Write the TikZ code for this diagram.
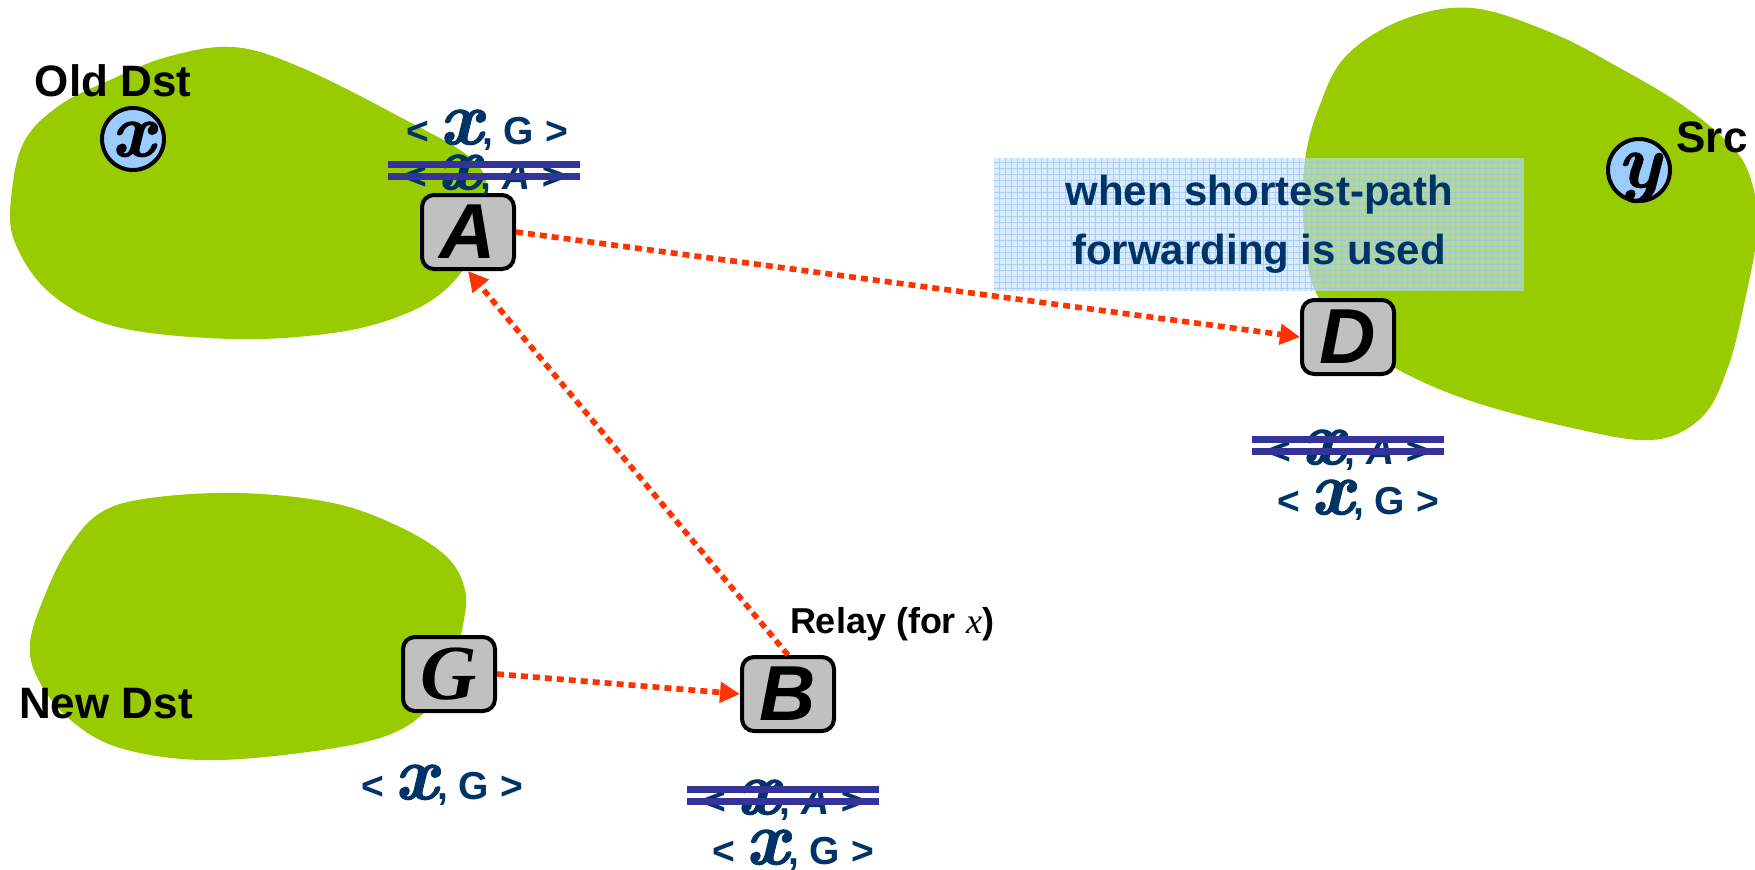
\documentclass[tikz,border=0pt]{standalone}
\usepackage{fontspec}
\setmainfont{Liberation Sans}
\newfontfamily\serifvar{Liberation Serif}
\newfontfamily\lmvar{Latin Modern Roman}[FakeBold=1.5]
\usetikzlibrary{arrows.meta,positioning}

\definecolor{blobgreen}{RGB}{153,204,0}
\definecolor{boxgray}{RGB}{192,192,192}
\definecolor{hostblue}{RGB}{153,204,255}
\definecolor{tagblue}{RGB}{0,51,102}
\definecolor{strikeblue}{RGB}{51,51,153}
\definecolor{pathred}{RGB}{255,51,0}
\definecolor{noteblue}{RGB}{196,224,255}
\definecolor{notegrid}{RGB}{150,195,250}

% host variable and routing entry < x, ... >
\newcommand{\hvar}[1]{{\lmvar\bfseries\itshape\fontsize{38}{38}\selectfont #1}}
\newcommand{\entry}[1]{< \hvar{x}, #1 >}

\begin{document}
\begin{tikzpicture}[
    x=0.5pt, y=-0.5pt,
    blob/.style={fill=blobgreen, draw=none},
    router/.style={rectangle, draw, line width=2pt, fill=boxgray,
                   rounded corners=6pt, minimum width=46pt, minimum height=37pt,
                   inner sep=0pt, font=\fontsize{39}{39}\selectfont\bfseries\itshape},
    host/.style={circle, draw, line width=2pt, fill=hostblue, minimum size=31pt,
                 inner sep=0pt, text depth=0pt,
                 font=\lmvar\fontsize{38}{38}\selectfont\bfseries\itshape},
    area/.style={inner sep=0pt, font=\fontsize{22}{22}\selectfont\bfseries},
    tag/.style={text=tagblue, inner sep=0pt, font=\fontsize{19.5}{20}\selectfont\bfseries},
    strike/.style={draw=strikeblue, line width=3.5pt},
    note/.style={rectangle, fill=noteblue, fill opacity=0.6, text opacity=1,
                 minimum width=265pt, minimum height=66.5pt, inner sep=0pt,
                 align=center, text=tagblue,
                 font=\fontsize{21}{29.5}\selectfont\bfseries,
                 path picture={\draw[notegrid, draw opacity=0.7, line width=0.6pt, step=3pt]
                   (path picture bounding box.south west) grid (path picture bounding box.north east);}},
    route/.style={draw=pathred, line width=2.8pt, dash pattern=on 3.5pt off 2.5pt,
                  -{Triangle[length=10pt,width=10pt]}}
]
\useasboundingbox (0,0) rectangle (1755,869);

% domains
\fill[blob] plot[smooth cycle, tension=0.6] coordinates {
    (233,47) (300,67) (400,117) (473,160) (488,200) (475,250) (445,290)
    (400,316) (333,333) (233,339) (117,327) (50,293) (14,240) (12,190)
    (25,140) (60,105) (110,80) (167,57)};
\fill[blob] plot[smooth cycle, tension=0.6] coordinates {
    (240,493) (333,503) (400,527) (447,557) (465,590) (463,625) (450,670)
    (427,710) (383,737) (300,753) (200,760) (117,747) (67,717) (37,677)
    (30,643) (43,600) (67,550) (100,513) (150,498)};
\fill[blob] plot[smooth cycle, tension=0.6] coordinates {
    (1472,8) (1552,33) (1618,67) (1685,107) (1735,150) (1753,187) (1757,233)
    (1745,300) (1728,367) (1702,417) (1652,440) (1568,427) (1468,400)
    (1395,368) (1345,333) (1312,283) (1303,217) (1305,160) (1318,110)
    (1345,57) (1402,20)};

\node[note] (sp) at (1259,224) {when shortest-path\\forwarding is used};

% hosts and routers
\node[host] (dstx) at (133,139) {x};
\node[host] (srcy) at (1639,170) {y};
\node[area] (olddst) at (113,81) {Old Dst};
\node[area] (newdst) at (106,704) {New Dst};
\node[area] (src) at (1712,137) {Src};

\node[router] (A) at (468,232) {A};
\node[router] (D) at (1348,337) {D};
\node[router, font=\serifvar\fontsize{39}{39}\selectfont\bfseries\itshape] (G) at (449,674) {G};
\node[router] (B) at (788,694) {B};
\node[inner sep=0pt, font=\fontsize{18}{18}\selectfont\bfseries] (relay) at (892,624)
    {Relay (for {\serifvar\mdseries\itshape x})};

% routing entries
\node[tag] (gA) at (487,130) {\entry{G}};
\node[tag] (sA) at (484,175) {\entry{\itshape A}};
\node[tag] (sD) at (1348,450) {\entry{\itshape A}};
\node[tag] (gD) at (1358,500) {\entry{G}};
\node[tag] (gG) at (442,785) {\entry{G}};
\node[tag] (sB) at (783,800) {\entry{\itshape A}};
\node[tag] (gB) at (793,850) {\entry{G}};
\foreach \s in {sA,sD,sB} {
  \draw[strike] ([shift={(-96,-11)}]\s.center) -- ([shift={(96,-11)}]\s.center);
  \draw[strike] ([shift={(-96,1)}]\s.center) -- ([shift={(96,1)}]\s.center);
}

% forwarding paths
\draw[route] (A.east) -- (D.west);
\draw[route] (G.east) -- (B.west);
\draw[route] (B.north) -- (A.south);
\end{tikzpicture}
\end{document}
